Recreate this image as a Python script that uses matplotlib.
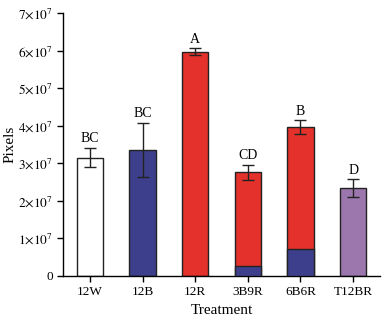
import numpy as np
import matplotlib.pyplot as plt

plt.rcParams['font.family'] = 'Liberation Serif'
plt.rcParams['mathtext.fontset'] = 'stix'

# Data
treatments = ['12W', '12B', '12R', '3B9R', '6B6R', 'T12BR']
totals = [3.15e7, 3.36e7, 5.97e7, 2.76e7, 3.96e7, 2.34e7]
errors = [0.26e7, 0.72e7, 0.09e7, 0.20e7, 0.18e7, 0.23e7]
blue_part = [0, 3.36e7, 0, 0.25e7, 0.72e7, 0]
letters = ['BC', 'BC', 'A', 'CD', 'B', 'D']

red = '#e5312b'
navy = '#3e3f8c'
purple = '#9b77ae'

fig = plt.figure(figsize=(3.9, 3.18), dpi=100)
ax = fig.add_axes([0.162, 0.133, 0.812, 0.826])

x = np.arange(len(treatments))
base_colors = ['white', navy, red, red, red, purple]
ax.bar(x, totals, width=0.5, color=base_colors, edgecolor='#222222', linewidth=1.0, zorder=2)
# blue bottoms of the mixed treatments
for i in (3, 4):
    ax.bar(x[i], blue_part[i], width=0.5, color=navy, edgecolor='#222222', linewidth=1.0, zorder=3)

ax.errorbar(x, totals, yerr=errors, fmt='none', ecolor='#222222', elinewidth=1.0, capsize=4, capthick=1.0, zorder=4)

for i in range(len(x)):
    ax.text(x[i], totals[i] + errors[i] + 0.07e7, letters[i], ha='center', va='bottom', fontsize=10)

ax.set_xlim(-0.51, 5.51)
ax.set_ylim(0, 7e7)
yt = np.arange(0, 8) * 1e7
ax.set_yticks(yt)
ax.set_yticklabels(['0'] + [r'$%d{\times}10^{7}$' % k for k in range(1, 8)])
ax.set_xticks(x)
ax.set_xticklabels(treatments)
ax.tick_params(labelsize=9.5, direction='out', length=4, width=1.0)
for s in ['top', 'right']:
    ax.spines[s].set_visible(False)
for s in ['left', 'bottom']:
    ax.spines[s].set_linewidth(1.0)

ax.set_xlabel('Treatment', fontsize=11)
ax.set_ylabel('Pixels', fontsize=11, labelpad=1)

fig.savefig('out.png', dpi=100)
